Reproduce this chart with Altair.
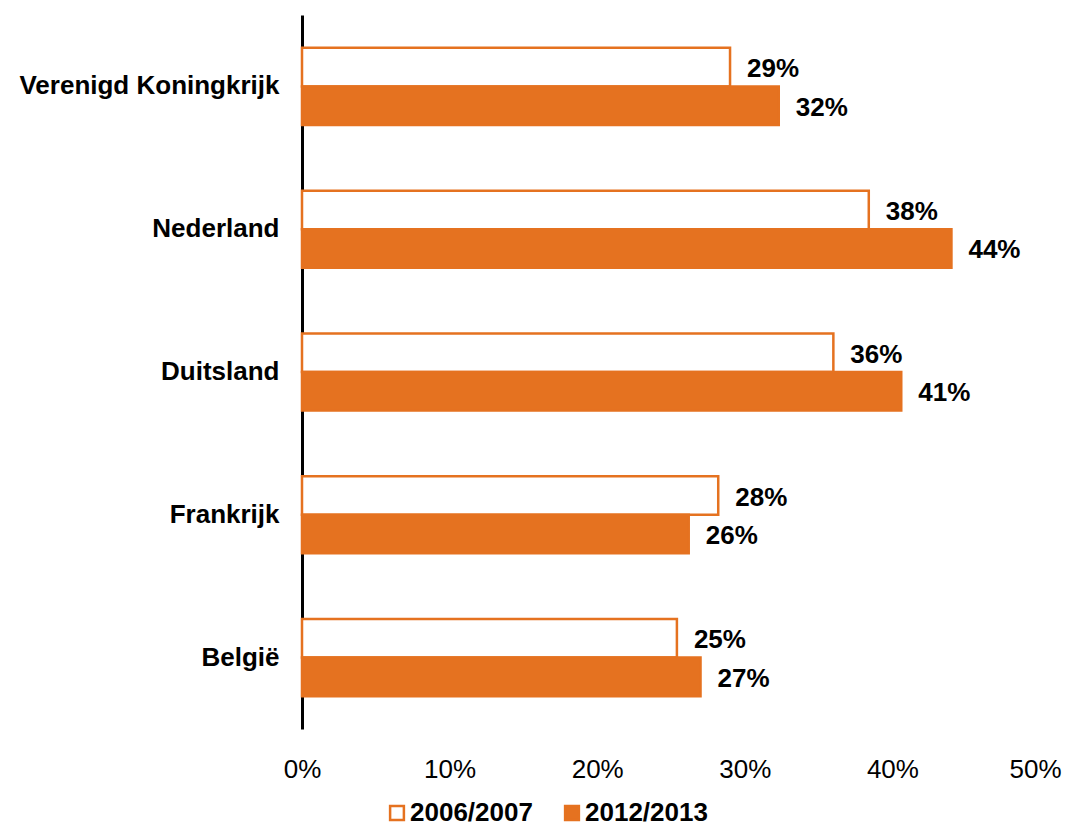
import altair as alt
import pandas as pd

countries = ["Verenigd Koningkrijk", "Nederland", "Duitsland", "Frankrijk", "België"]
series = ["2006/2007", "2012/2013"]
v2006 = [0.290, 0.384, 0.360, 0.282, 0.254]
v2012 = [0.323, 0.440, 0.406, 0.262, 0.270]

rows = []
for c, a, b in zip(countries, v2006, v2012):
    rows.append({"land": c, "periode": series[0], "waarde": a})
    rows.append({"land": c, "periode": series[1], "waarde": b})
df = pd.DataFrame(rows)

ORANGE = "#E57220"
FONT = "Liberation Sans"

y_enc = alt.Y("land:N", sort=countries, title=None,
              scale=alt.Scale(paddingInner=0.46, paddingOuter=0.23),
              axis=alt.Axis(labelFont=FONT, labelFontSize=26, labelFontWeight="bold",
                            labelColor="black", labelPadding=23, labelLimit=400, ticks=False,
                            domainColor="black", domainWidth=3))
x_enc = alt.X("waarde:Q", title=None,
              scale=alt.Scale(domain=[0, 0.5]),
              axis=alt.Axis(format=".0%", values=[0, 0.1, 0.2, 0.3, 0.4, 0.5],
                            grid=False, domain=False, ticks=False,
                            labelFont=FONT, labelFontSize=26, labelColor="black",
                            labelPadding=27, labelFlush=False,
                            labelOffset=alt.ExprRef("datum.value >= 0.5 ? -5 : 0")))
yoff = alt.YOffset("periode:N", sort=series)

bars = alt.Chart(df).mark_bar(strokeWidth=2.5, strokeJoin="miter").encode(
    y=y_enc,
    x=x_enc,
    yOffset=yoff,
    fill=alt.Fill("periode:N", sort=series,
                  scale=alt.Scale(domain=series, range=["white", ORANGE]),
                  legend=alt.Legend(title=None, orient="none", direction="horizontal",
                                    legendX=82, legendY=785,
                                    symbolType="square", symbolSize=190,
                                    symbolStrokeWidth=2.5,
                                    labelFont=FONT, labelFontSize=26, labelFontWeight="bold",
                                    labelColor="black", columnPadding=26, labelOffset=0,
                                    labelLimit=300)),
    stroke=alt.Stroke("periode:N", sort=series,
                      scale=alt.Scale(domain=series, range=[ORANGE, ORANGE])),
)

labels = alt.Chart(df).mark_text(align="left", baseline="middle", dx=17, dy=2,
                                 font=FONT, fontSize=26, fontWeight="bold",
                                 color="black").encode(
    y=alt.Y("land:N", sort=countries),
    x="waarde:Q",
    yOffset=yoff,
    text=alt.Text("waarde:Q", format=".0%"),
)

chart = alt.layer(bars, labels).properties(
    width=738, height=714,
    autosize=alt.AutoSizeParams(type="none"),
    padding={"left": 294, "top": 7, "right": 22, "bottom": 100},
).configure_view(stroke=None)

chart.save("out.html", embed_options={"renderer": "svg", "actions": False})
